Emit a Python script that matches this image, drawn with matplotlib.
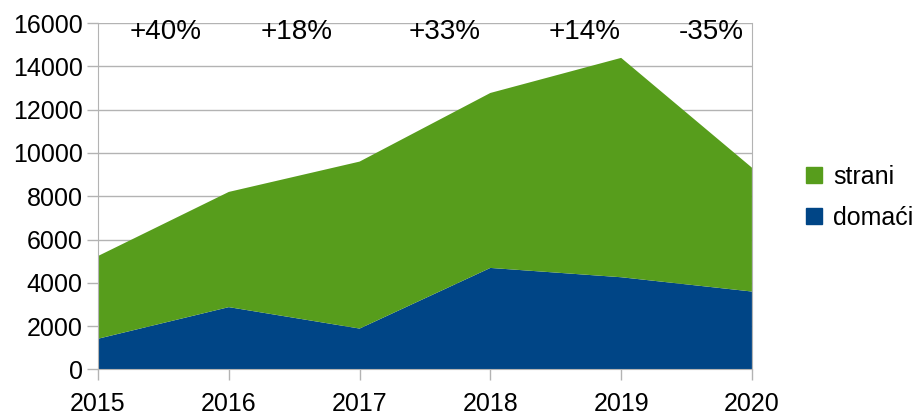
import matplotlib
matplotlib.use("Agg")
from matplotlib import pyplot as plt
from matplotlib.patches import Patch

plt.rcParams['font.family'] = ['Liberation Sans', 'DejaVu Sans']

years = [2015, 2016, 2017, 2018, 2019, 2020]
domaci = [1420, 2880, 1890, 4690, 4260, 3600]
ukupno = [5240, 8200, 9600, 12770, 14390, 9320]
strani = [u - d for u, d in zip(ukupno, domaci)]
promjene = ["+40%", "+18%", "+33%", "+14%", "-35%"]

green = "#579d1c"
blue = "#004586"
grid_col = "#b3b3b3"

fig = plt.figure(figsize=(9.17, 4.16), dpi=100)
ax = fig.add_axes([0.1069, 0.1118, 0.7131, 0.8329])

ax.stackplot(years, domaci, strani, colors=[blue, green], linewidth=0)

ax.set_xlim(2015, 2020)
ax.set_ylim(0, 16000)
ax.set_xticks(years)
ax.set_yticks(range(0, 16001, 2000))
ax.grid(True, axis='y', color=grid_col, linewidth=1)
ax.set_axisbelow(True)
for s in ax.spines.values():
    s.set_color(grid_col)
ax.spines['top'].set_visible(False)
ax.tick_params(axis='both', colors=grid_col, labelcolor='black', labelsize=18,
               length=8, width=1)
ax.tick_params(axis='x', pad=8)
ax.tick_params(axis='y', pad=3)

# labels sit a bit right of the midpoints in the original
label_x = [2015.52, 2016.52, 2017.65, 2018.72, 2019.69]
for x, txt in zip(label_x, promjene):
    ax.text(x, 15600, txt, ha='center', va='center', fontsize=20)

handles = [Patch(color=green, label="strani"), Patch(color=blue, label="domaći")]
fig.legend(handles=handles, loc='center left', bbox_to_anchor=(0.8786, 0.526),
           frameon=False, fontsize=18, handlelength=0.64, handleheight=0.64,
           handletextpad=0.45, labelspacing=0.68, borderpad=0, borderaxespad=0)

fig.savefig("out.png", dpi=100)
